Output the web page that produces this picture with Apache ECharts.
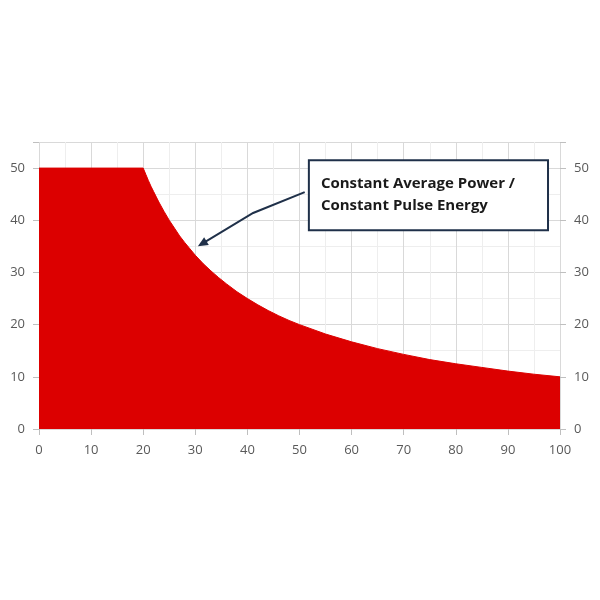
<!DOCTYPE html>
<html><head><meta charset="utf-8">
<script src="https://cdn.jsdelivr.net/npm/echarts@6/dist/echarts.min.js"></script>
<style>html,body{margin:0;padding:0;background:#fff}#c{width:600px;height:600px}</style>
</head><body><div id="c"></div>
<script>
const xValues = [0, 20, 20.5, 21, 21.5, 22, 23, 24, 25, 26, 27, 28, 29, 30, 31.5, 33, 34.5, 36, 38, 40, 42, 44, 46, 48, 50, 55, 60, 65, 70, 75, 80, 85, 90, 95, 100];
const yValues = [50, 50, 48.8, 47.6, 46.5, 45.5, 43.5, 41.7, 40, 38.5, 37, 35.7, 34.5, 33.3, 31.7, 30.3, 29, 27.8, 26.3, 25, 23.8, 22.7, 21.7, 20.8, 20, 18.2, 16.7, 15.4, 14.3, 13.3, 12.5, 11.8, 11.1, 10.5, 10];
const xTicks = [0, 10, 20, 30, 40, 50, 60, 70, 80, 90, 100];
const yTicks = [0, 10, 20, 30, 40, 50];
const annotationLines = ['Constant Average Power /', 'Constant Pulse Energy'];
const arrowPath = [[51, 45.4], [41.1, 41.4], [30.5, 35.0]];
const boxCorners = [[51.8, 51.5], [97.7, 38.1]];

const chart = echarts.init(document.getElementById('c'));
const labelStyle = {color: '#595959', fontSize: 13, fontFamily: 'Open Sans'};
const yAxisBase = {
  type: 'value', min: 0, max: 55, interval: 10,
  axisLine: {show: false},
  axisTick: {show: true, length: 6, lineStyle: {color: '#bfbfbf'}},
  axisLabel: Object.assign({margin: 14, formatter: v => yTicks.includes(v) ? String(v) : ''}, labelStyle)
};
chart.setOption({
  animation: false,
  grid: {left: 39, right: 40, top: 142, bottom: 171, containLabel: false},
  xAxis: {
    type: 'value', min: 0, max: 100, interval: 10,
    axisLine: {show: true, lineStyle: {color: '#d9d9d9'}},
    axisTick: {show: true, length: 6, lineStyle: {color: '#bfbfbf'}},
    axisLabel: Object.assign({margin: 15, formatter: v => xTicks.includes(v) ? String(v) : ''}, labelStyle),
    splitLine: {show: true, lineStyle: {color: '#d9d9d9', width: 1}},
    minorTick: {show: false, splitNumber: 2},
    minorSplitLine: {show: true, lineStyle: {color: '#eeeeee', width: 1}}
  },
  yAxis: [
    Object.assign({}, yAxisBase, {
      position: 'left',
      splitLine: {show: true, lineStyle: {color: '#d9d9d9', width: 1}},
      minorTick: {show: false, splitNumber: 2},
      minorSplitLine: {show: true, lineStyle: {color: '#eeeeee', width: 1}}
    }),
    Object.assign({}, yAxisBase, {position: 'right', splitLine: {show: false}})
  ],
  series: [{
    type: 'line',
    data: xValues.map((x, i) => [x, yValues[i]]),
    showSymbol: false,
    symbol: 'none',
    lineStyle: {color: '#dc0000', width: 1},
    areaStyle: {color: '#dc0000', opacity: 1},
    z: 3
  }]
});

function px(p) { return chart.convertToPixel({gridIndex: 0}, p); }
const pts = arrowPath.map(px);
const tip = pts[pts.length - 1], prev = pts[pts.length - 2];
const ang = Math.atan2(tip[1] - prev[1], tip[0] - prev[0]);
const L = 10, W = 4.5;
const base = [tip[0] - L * Math.cos(ang), tip[1] - L * Math.sin(ang)];
const head = [
  tip,
  [base[0] + W * Math.sin(ang), base[1] - W * Math.cos(ang)],
  [base[0] - W * Math.sin(ang), base[1] + W * Math.cos(ang)]
];
const lineEnd = [tip[0] - (L - 2) * Math.cos(ang), tip[1] - (L - 2) * Math.sin(ang)];
const b0 = px(boxCorners[0]), b1 = px(boxCorners[1]);
chart.setOption({
  graphic: [
    {type: 'polyline', shape: {points: pts.slice(0, -1).concat([lineEnd])}, style: {stroke: '#1f3049', lineWidth: 2, fill: null}, z: 100},
    {type: 'polygon', shape: {points: head}, style: {fill: '#1f3049'}, z: 100},
    {type: 'rect', shape: {x: b0[0], y: b0[1], width: b1[0] - b0[0], height: b1[1] - b0[1]}, style: {fill: '#ffffff', stroke: '#1f3049', lineWidth: 2}, z: 100},
    {type: 'text', x: b0[0] + 12, y: b0[1] + 12, style: {text: annotationLines.join('\n'), fill: '#1a1a1a', font: 'bold 15px "Open Sans"', lineHeight: 22}, z: 101}
  ]
});
</script>
</body></html>
